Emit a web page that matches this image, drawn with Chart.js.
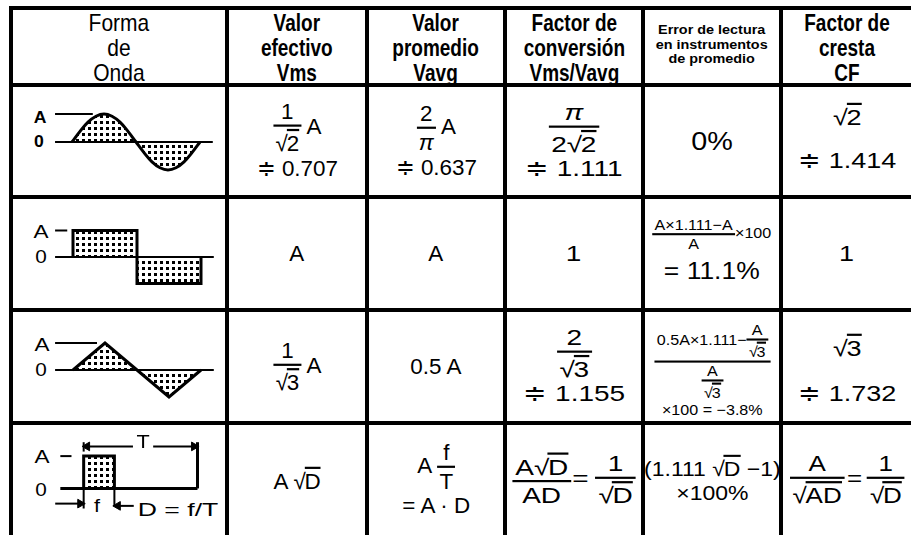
<!DOCTYPE html>
<html><head><meta charset="utf-8">
<script src="https://cdn.jsdelivr.net/npm/chart.js@4.4.1/dist/chart.umd.min.js"></script>
<style>
html,body{margin:0;padding:0}
body{width:911px;height:535px;overflow:hidden;background:#fff;font-family:"Liberation Sans",Arial,Helvetica,sans-serif;color:#000;position:relative}
.ln{position:absolute;background:#000;z-index:5}
.cell{position:absolute;display:flex;align-items:center;justify-content:center;text-align:center;overflow:visible}
.blk{display:inline-block;white-space:nowrap}
.hd{font-size:20px;line-height:21px}
.hb{font-weight:bold}
.v{font-size:20px;line-height:1.15}
.fr{display:inline-flex;flex-direction:column;vertical-align:middle;text-align:center;line-height:1.05}
.fr>.n{padding:0 2px 1px}
.fr>.d{border-top:2px solid #000;padding:2px 2px 0}
.sq{white-space:nowrap}
.ol{display:inline-block;border-top:2px solid #000;line-height:1;padding-top:1px;margin-left:-1px}
canvas{position:absolute}
.lb{position:absolute;white-space:nowrap;line-height:1}
.sm{font-size:14px}
.sm .fr{line-height:1}
.sm .fr>.d{padding-top:1px}
.eq{display:inline-block}
</style>
</head><body>
<script>
// ---------- helpers for formula text ----------
function frac(n,d){return '<span class="fr"><span class="n">'+n+'</span><span class="d">'+d+'</span></span>';}
function sq(x){return '<span class="sq">√<span class="ol">'+x+'</span></span>';}

// ---------- data ----------
const headers = [
  "Forma<br>de<br>Onda",
  "Valor<br>efectivo<br>Vms",
  "Valor<br>promedio<br>Vavg",
  "Factor de<br>conversión<br>Vms/Vavg",
  "Error de lectura<br>en instrumentos<br>de promedio",
  "Factor de<br>cresta<br>CF"
];
const waveNames = ["sine","square","triangle","pulse"];
const vmsCol = [
  '<div>'+frac('1',sq('2'))+' A</div><div style="margin-top:1px">≑ 0.707</div>',
  'A',
  frac('1',sq('3'))+' A',
  'A '+sq('D')
];
const vavgCol = [
  '<div>'+frac('2','<i>π</i>')+' A</div><div style="margin-top:1px">≑ 0.637</div>',
  'A',
  '0.5 A',
  '<div>A '+frac('f','T')+'</div><div>= A · D</div>'
];
const convCol = [
  '<div>'+frac('<i>π</i>','2'+sq('2'))+'</div><div>≑ 1.111</div>',
  '1',
  '<div>'+frac('2',sq('3'))+'</div><div>≑ 1.155</div>',
  frac('A'+sq('D'),'AD')+'<span class="eq" style="margin:0 5px 0 1px">=</span>'+frac('1',sq('D'))
];
const errCol = [
  '<span style="font-size:25px">0%</span>',
  '<div class="sm">'+frac('A×1.111−A','A')+'×100</div><div style="margin-top:6px;font-size:23px">= 11.1%</div>',
  '<div class="sm">'+frac('0.5A×1.111−'+frac('A',sq('3')),frac('A',sq('3')))+'</div><div class="sm" style="margin-top:1px">×100 = −3.8%</div>',
  '<div>(1.111 '+sq('D')+' −1)</div><div>×100%</div>'
];
const cfCol = [
  '<div>'+sq('2')+'</div><div style="margin-top:16px">≑ 1.414</div>',
  '1',
  '<div>'+sq('3')+'</div><div style="margin-top:18px">≑ 1.732</div>',
  frac('A',sq('AD'))+'<span class="eq" style="margin:0 4px 0 2px">=</span>'+frac('1',sq('D'))
];
// waveform samples (x in fractions of the period, y in units of A)
const sineX = [0,0.5,1,1.5,2,2.5,3,3.5,4,4.5,5,5.5,6,6.5,7,7.5,8];
const sineY = [0,0.38,0.71,0.92,1,0.92,0.71,0.38,0,-0.38,-0.71,-0.92,-1,-0.92,-0.71,-0.38,0];
const squareX = [0,0,1,1,2,2];
const squareY = [0,1,1,-1,-1,0];
const triX = [0,1,2,3,4];
const triY = [0,1,0,-1,0];
const dutyD = 0.27;
const pulseX = [0,0,dutyD,dutyD];
const pulseY = [0,1,1,0];

// ---------- layout ----------
const vLines = [9,225,365,503,641,779];
const hLines = [6,83,195,308,421];
const colBounds = [[13,225],[229,365],[369,503],[507,641],[645,779],[783,911]];
const rowBounds = [[10,83],[87,195],[199,308],[312,421],[425,535]];
const colScale = [null,[1.12,1.1],[1.12,1.1],[1.4,1.1],[1.15,1.05],[1.35,1.1]];
const cellOpt = {'5,1':{dy:-3},'5,3':{dy:3},'4,3':{dy:4},'4,2':{dy:-2},'5,4':{left:7,sc:[1.3,1.1]}};

function addDiv(cls, st, html){const d=document.createElement('div');d.className=cls;Object.assign(d.style,st);if(html!==undefined)d.innerHTML=html;document.body.appendChild(d);return d;}
vLines.forEach(x=>addDiv('ln',{left:x+'px',top:'6px',width:'4px',height:'529px'}));
hLines.forEach(y=>addDiv('ln',{left:'9px',top:y+'px',width:'902px',height:'4px'}));

function cell(c,r,html,cls,sc,dy){
  const o=cellOpt[c+','+r]||{};
  if(o.sc) sc=o.sc;
  const [x0,x1]=colBounds[c],[y0,y1]=rowBounds[r];
  const d=addDiv('cell',{left:x0+'px',top:y0+'px',width:(x1-x0)+'px',height:(y1-y0)+'px'});
  const b=document.createElement('div');b.className='blk '+cls;b.innerHTML=html;
  if(o.left!==undefined){d.style.justifyContent='flex-start';d.style.paddingLeft=o.left+'px';d.style.boxSizing='border-box';b.style.transformOrigin='left center';}
  b.style.transform='translateY('+((dy||0)+(o.dy||0))+'px) scale('+sc[0]+','+sc[1]+')';
  d.appendChild(b);return b;
}
headers.forEach((h,i)=>{
  if(i===0) cell(i,0,h,'hd',[1.05,1.19],2);
  else if(i===4){const b=cell(i,0,h,'hb',[1.2,1.05],-1);b.style.fontSize='12px';b.style.lineHeight='13.5px';}
  else cell(i,0,h,'hd hb',[0.95,1.19],2);
});
const body=[vmsCol,vavgCol,convCol,errCol,cfCol];
body.forEach((col,ci)=>col.forEach((html,ri)=>cell(ci+1,ri+1,html,'v',colScale[ci+1],0)));

// ---------- waveform labels ----------
function lbl(t,cx,cy,st,sx){addDiv('lb',Object.assign({left:cx+'px',top:cy+'px',transform:'translate(-50%,-50%) scale('+(sx||1)+',1)'},st||{}),t);}
lbl('A',40,118,{fontWeight:'bold',fontSize:'16px'},1.1);
lbl('0',39,142,{fontWeight:'bold',fontSize:'16px'},1.1);
lbl('A',41,232,{fontSize:'18px'},1.25);
lbl('0',41,257,{fontSize:'18px'},1.15);
lbl('A',42,345,{fontSize:'18px'},1.25);
lbl('0',41,370,{fontSize:'18px'},1.15);
lbl('A',42,457,{fontSize:'18px'},1.25);
lbl('0',41,490,{fontSize:'18px'},1.15);
lbl('T',143,442,{fontSize:'18px',background:'#fff',padding:'0 3px',zIndex:3},1.2);
lbl('f',97,506,{fontSize:'18px'},1.2);
lbl('D = f/T',178,509,{fontSize:'19px'},1.4);

// ---------- waveforms via Chart.js ----------
function dotPattern(){
  const c=document.createElement('canvas');c.width=6;c.height=6;
  const x=c.getContext('2d');x.fillStyle='#fff';x.fillRect(0,0,6,6);x.fillStyle='#000';x.fillRect(1,2,3,3);
  return x.createPattern(c,'repeat');
}
function pts(xs,ys){return xs.map((x,i)=>({x:x,y:ys[i]}));}
function seg(xs,ys,w,extra){return Object.assign({data:pts(xs,ys),borderColor:'#000',borderWidth:w||2,pointRadius:0,fill:false,tension:0,clip:false},extra||{});}
function wave(left,top,w,h,xr,yr,datasets){
  const cv=document.createElement('canvas');cv.width=w;cv.height=h;cv.style.left=left+'px';cv.style.top=top+'px';
  document.body.appendChild(cv);
  new Chart(cv,{type:'line',data:{datasets:datasets},options:{responsive:false,animation:false,devicePixelRatio:1,events:[],
    plugins:{legend:{display:false},tooltip:{enabled:false}},layout:{padding:0},
    scales:{x:{type:'linear',display:false,min:xr[0],max:xr[1]},y:{type:'linear',display:false,min:yr[0],max:yr[1]}}}});
}
const pat=dotPattern();
// sine
wave(45,95,180,95,[-1.6875,9.5625],[-1.714,1.679],[
  seg([-1.06,8.8],[0,0],2),
  seg([-1.06,1.3],[1,1],2),
  seg(sineX,sineY,3,{fill:'origin',backgroundColor:pat,tension:0.4})
]);
// square
wave(45,205,180,95,[-0.4375,2.375],[-1.623,1.962],[
  seg([-0.28,2.2],[0,0],2),
  seg([-0.28,-0.09],[1,1],2),
  seg(squareX,squareY,3,{fill:'origin',backgroundColor:pat})
]);
// triangle
wave(45,318,180,95,[-0.875,4.75],[-1.593,1.926],[
  seg([-0.56,4.4],[0,0],2),
  seg([-0.56,0.75],[1,1],2),
  seg(triX,triY,3,{fill:'origin',backgroundColor:pat})
]);
// pulse
wave(45,430,180,95,[-0.287,1.189],[-0.946,1.622],[
  seg([-0.205,1],[0,0],3),
  seg([-0.205,-0.107],[1,1],2),
  seg(pulseX,pulseY,3,{fill:'origin',backgroundColor:pat}),
  seg([1,1],[0,1.43],3),
  seg([0,0],[1.14,1.43],2),
  seg([0.03,0.97],[1.3,1.3],2,{pointRadius:[5,5],pointStyle:'triangle',rotation:[-90,90],pointBackgroundColor:'#000',pointBorderColor:'#000',pointBorderWidth:1}),
  seg([0,0],[0,-0.62],2),
  seg([dutyD,dutyD],[0,-0.55],2),
  seg([-0.25,-0.03],[-0.47,-0.47],2,{pointRadius:[0,5],pointStyle:'triangle',rotation:90,pointBackgroundColor:'#000',pointBorderColor:'#000',pointBorderWidth:1}),
  seg([dutyD+0.03,dutyD+0.17],[-0.54,-0.54],2,{pointRadius:[5,0],pointStyle:'triangle',rotation:-90,pointBackgroundColor:'#000',pointBorderColor:'#000',pointBorderWidth:1})
]);
</script>
</body></html>
